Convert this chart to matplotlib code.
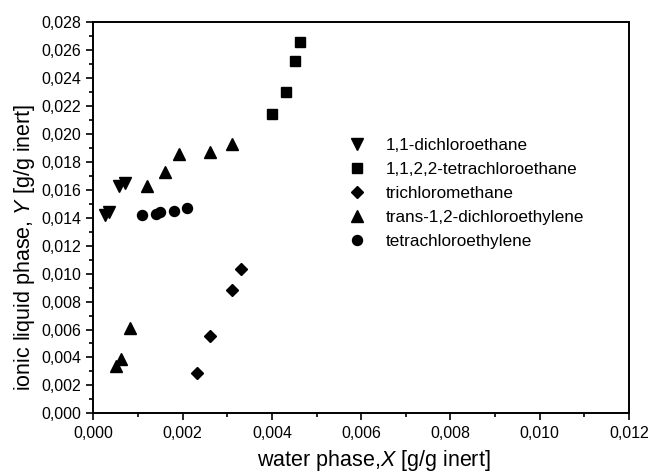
import matplotlib
matplotlib.use("Agg")
import matplotlib.pyplot as plt
from matplotlib.ticker import MultipleLocator, FuncFormatter

plt.rcParams['font.family'] = ['Liberation Sans', 'DejaVu Sans']
plt.rcParams['mathtext.fontset'] = 'custom'
plt.rcParams['mathtext.rm'] = 'Liberation Sans'
plt.rcParams['mathtext.it'] = 'Liberation Sans:italic'

dce_x = [0.00025, 0.00035, 0.00058, 0.00070]
dce_y = [0.0142, 0.0144, 0.0163, 0.0165]

tetra_x = [0.00401, 0.00432, 0.00452, 0.00463]
tetra_y = [0.0214, 0.0230, 0.0252, 0.0266]

tcm_x = [0.00231, 0.00262, 0.00311, 0.00331]
tcm_y = [0.0029, 0.0055, 0.0088, 0.0103]

tde_x = [0.00050, 0.00061, 0.00081, 0.00120, 0.00161, 0.00191, 0.00261, 0.00311]
tde_y = [0.0034, 0.0039, 0.0061, 0.0163, 0.0173, 0.0186, 0.0187, 0.0193]

pce_x = [0.00110, 0.00141, 0.00150, 0.00181, 0.00210]
pce_y = [0.0142, 0.0143, 0.0144, 0.0145, 0.0147]

labels = ["1,1-dichloroethane", "1,1,2,2-tetrachloroethane", "trichloromethane",
          "trans-1,2-dichloroethylene", "tetrachloroethylene"]

W, H = 655, 475
fig = plt.figure(figsize=(6.55, 4.75), dpi=100)
ax = fig.add_axes([93.4 / W, 1 - 413.3 / H, (629 - 93.4) / W, (413.3 - 22.3) / H])

ax.plot(dce_x, dce_y, 'kv', ms=9, ls='none', label=labels[0])
ax.plot(tetra_x, tetra_y, 'ks', ms=6.5, ls='none', label=labels[1])
ax.plot(tcm_x, tcm_y, 'kD', ms=6.5, ls='none', label=labels[2])
ax.plot(tde_x, tde_y, 'k^', ms=9, ls='none', label=labels[3])
ax.plot(pce_x, pce_y, 'ko', ms=7.2, ls='none', label=labels[4])

ax.set_xlim(0, 0.012)
ax.set_ylim(0, 0.028)
ax.xaxis.set_major_locator(MultipleLocator(0.002))
ax.xaxis.set_minor_locator(MultipleLocator(0.001))
ax.yaxis.set_major_locator(MultipleLocator(0.002))
ax.yaxis.set_minor_locator(MultipleLocator(0.001))
fmt = FuncFormatter(lambda v, p: f"{v:.3f}".replace('.', ','))
ax.xaxis.set_major_formatter(fmt)
ax.yaxis.set_major_formatter(fmt)
ax.tick_params(which='major', direction='out', length=5, width=1.2, labelsize=11.5,
               top=False, right=False, pad=4)
ax.tick_params(which='minor', direction='out', length=3, width=1.2, top=False, right=False)
for s in ax.spines.values():
    s.set_linewidth(1.4)

ax.set_xlabel("water phase,$\\mathit{X}$ [g/g inert]", fontsize=15.5)
ax.xaxis.set_label_coords((373.5 - 93.4) / 535.6, (413.3 - 448) / 391)
ax.set_ylabel("ionic liquid phase, $\\mathit{Y}$ [g/g inert]", fontsize=15.5)
ax.yaxis.set_label_coords((37 - 93.4) / 535.6, (413.3 - 247) / 391)

ax.legend(loc='upper left', bbox_to_anchor=(348 / W, 1 - 138 / H),
          bbox_transform=fig.transFigure, frameon=False, fontsize=12.3,
          borderpad=0, borderaxespad=0,
          handletextpad=1.2, labelspacing=0.52, handlelength=1.0)

fig.savefig("out.png", dpi=100)
